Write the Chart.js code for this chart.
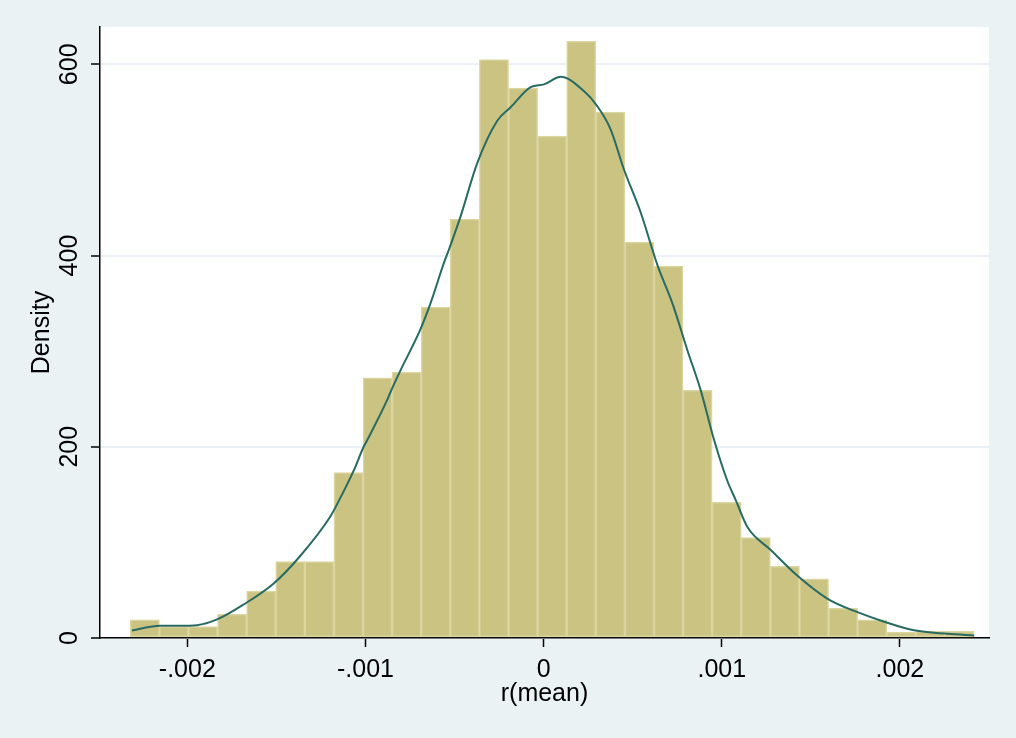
<!DOCTYPE html>
<html>
<head>
<meta charset="utf-8">
<script src="https://cdn.jsdelivr.net/npm/chart.js@4.4.1/dist/chart.umd.min.js"></script>
<style>
  html, body { margin: 0; padding: 0; background: #EAF2F3; }
  #wrap { width: 1016px; height: 738px; position: relative; }
</style>
</head>
<body>
<div id="wrap"><canvas id="c"></canvas></div>
<script>
// Histogram bins
const binStart = -0.00232;
const binWidth = 0.0001633;
const barHeights = [19, 12, 12, 25, 49, 80, 80, 173, 272, 278, 346, 438, 605, 575, 525, 624, 550, 414, 389, 259, 142, 105, 75, 62, 31, 19, 6, 7, 7];

// Kernel density curve
const densX = [-0.002311, -0.002152, -0.002040, -0.001946, -0.001833, -0.001684, -0.001515, -0.001365, -0.001197, -0.001159, -0.001066, -0.001010, -0.000990, -0.000878, -0.000860, -0.000803, -0.000691, -0.000635, -0.000560, -0.000532, -0.000466, -0.000372, -0.000260, -0.000185, -0.000073, 0.000002, 0.000096, 0.000226, 0.000302, 0.000376, 0.000451, 0.000545, 0.000639, 0.000723, 0.000807, 0.000882, 0.000957, 0.001030, 0.001079, 0.001144, 0.001275, 0.001425, 0.001594, 0.001762, 0.001912, 0.002080, 0.002268, 0.002417];
const densY = [7.9, 12.8, 12.8, 13.4, 19.4, 35, 57, 86, 127, 140, 175, 200, 207, 249, 257, 280, 323, 350, 392, 406, 441, 497, 541, 555, 576, 579, 587, 572, 556, 532, 490, 445, 390, 350, 301, 259, 207, 165, 144, 116, 92, 65, 41, 27, 17, 8, 4.4, 2.6];

// Axes
const xTickValues = [-0.002, -0.001, 0, 0.001, 0.002];
const xTickLabels = ['-.002', '-.001', '0', '.001', '.002'];
const yTickValues = [0, 200, 400, 600];
const yTickLabels = ['0', '200', '400', '600'];
const xMin = -0.00249, xMax = 0.0025;
const yMin = 0, yMax = 639;
const xTitle = 'r(mean)';
const yTitle = 'Density';

const barData = barHeights.map((h, i) => ({ x: binStart + (i + 0.5) * binWidth, y: h }));
const lineData = densX.map((x, i) => ({ x: x, y: densY[i] }));

Chart.defaults.font.family = '"Liberation Sans", Arial, sans-serif';
Chart.defaults.color = '#000';

const plotBg = {
  id: 'plotBg',
  beforeDraw(chart) {
    const a = chart.chartArea, ctx = chart.ctx;
    ctx.save();
    ctx.fillStyle = '#FFFFFF';
    ctx.fillRect(a.left, a.top, a.right - a.left, a.bottom - a.top);
    ctx.restore();
  }
};

new Chart(document.getElementById('c'), {
  type: 'bar',
  data: {
    datasets: [
      {
        type: 'line',
        data: lineData,
        borderColor: '#286B62',
        borderWidth: 2,
        pointRadius: 0,
        cubicInterpolationMode: 'monotone',
        fill: false,
        order: 0
      },
      {
        type: 'bar',
        data: barData,
        backgroundColor: '#CBC382',
        borderColor: '#DBD5A0',
        borderWidth: 1.5,
        borderSkipped: false,
        barPercentage: 1.0,
        categoryPercentage: 1.0,
        order: 1
      }
    ]
  },
  options: {
    responsive: true,
    maintainAspectRatio: false,
    animation: false,
    devicePixelRatio: 1,
    layout: { padding: { top: 27, right: 27, bottom: 0, left: 0 } },
    plugins: { legend: { display: false }, tooltip: { enabled: false } },
    scales: {
      x: {
        type: 'linear',
        min: xMin,
        max: xMax,
        offset: false,
        z: 1,
        afterBuildTicks: s => { s.ticks = xTickValues.map(v => ({ value: v })); },
        afterFit: s => { s.height = 100; },
        ticks: {
          autoSkip: false,
          maxRotation: 0,
          minRotation: 0,
          padding: 8,
          font: { size: 25 },
          color: '#000',
          callback: (v, i) => xTickLabels[i]
        },
        grid: { offset: false, drawOnChartArea: false, drawTicks: true, tickLength: 9, tickColor: '#000', tickWidth: 1.5 },
        border: { display: true, color: '#000', width: 1.5 },
        title: { display: true, text: xTitle, font: { size: 25 }, color: '#000', padding: { top: 0, bottom: 29 } }
      },
      y: {
        type: 'linear',
        min: yMin,
        max: yMax,
        afterBuildTicks: s => { s.ticks = yTickValues.map(v => ({ value: v })); },
        afterFit: s => { s.width = 100; },
        ticks: {
          autoSkip: false,
          minRotation: 90,
          maxRotation: 90,
          crossAlign: 'center',
          padding: 0,
          font: { size: 25 },
          color: '#000',
          callback: (v, i) => yTickLabels[i]
        },
        grid: { color: '#EAF0F3', lineWidth: 2, drawTicks: true, tickLength: 9, tickColor: '#000', tickWidth: 1.5 },
        border: { display: true, color: '#000', width: 1.5 },
        title: { display: true, text: yTitle, font: { size: 25 }, color: '#000', padding: { top: 27, bottom: 0 } }
      }
    }
  },
  plugins: [plotBg]
});
</script>
</body>
</html>
